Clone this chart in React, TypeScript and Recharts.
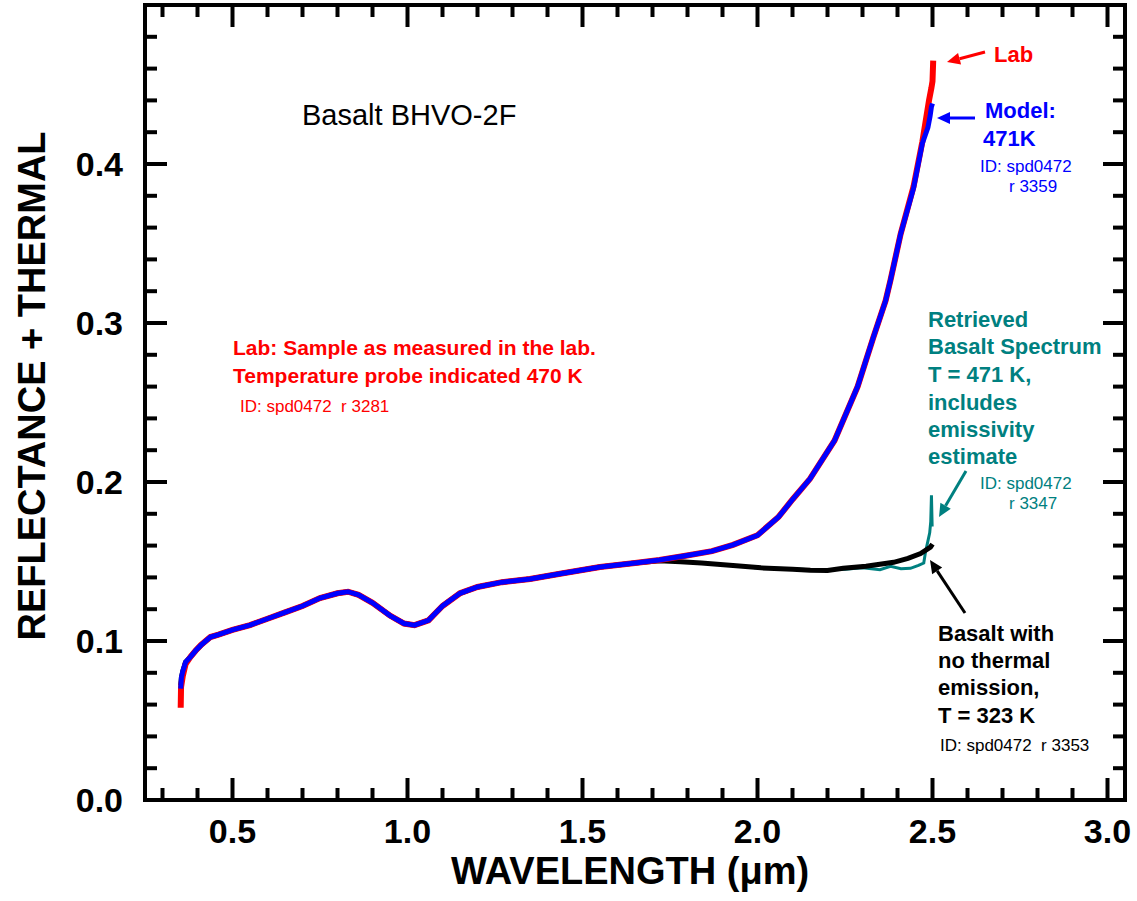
import React from 'react';
import { LineChart, Line, XAxis, YAxis, Customized } from 'recharts';

// ---------- data ----------
const labWavelength = [0.352, 0.353, 0.358, 0.366, 0.38, 0.395, 0.41, 0.437, 0.46, 0.5, 0.55, 0.6, 0.65, 0.7, 0.75, 0.8, 0.83, 0.86, 0.9, 0.95, 0.99, 1.02, 1.06, 1.1, 1.15, 1.2, 1.27, 1.35, 1.44, 1.55, 1.65, 1.72, 1.79, 1.87, 1.93, 2.0, 2.06, 2.1, 2.15, 2.22, 2.286, 2.331, 2.366, 2.38, 2.409, 2.446, 2.471, 2.49, 2.497, 2.5, 2.502];
const labReflectance = [0.058, 0.071, 0.078, 0.0855, 0.09, 0.094, 0.0975, 0.1025, 0.104, 0.107, 0.11, 0.114, 0.118, 0.122, 0.127, 0.13, 0.131, 0.129, 0.124, 0.116, 0.111, 0.11, 0.113, 0.122, 0.13, 0.134, 0.137, 0.139, 0.1425, 0.1465, 0.149, 0.151, 0.1535, 0.1565, 0.1605, 0.1665, 0.178, 0.189, 0.202, 0.226, 0.26, 0.291, 0.314, 0.327, 0.356, 0.386, 0.414, 0.44, 0.448, 0.452, 0.465];

const modelWavelength = [0.352, 0.354, 0.358, 0.366, 0.38, 0.395, 0.41, 0.437, 0.46, 0.5, 0.55, 0.6, 0.65, 0.7, 0.75, 0.8, 0.83, 0.86, 0.9, 0.95, 0.99, 1.02, 1.06, 1.1, 1.15, 1.2, 1.27, 1.35, 1.44, 1.55, 1.65, 1.72, 1.79, 1.87, 1.93, 2.0, 2.06, 2.1, 2.15, 2.22, 2.286, 2.331, 2.366, 2.38, 2.409, 2.446, 2.471, 2.487, 2.493, 2.497, 2.5];
const modelReflectance = [0.07, 0.077, 0.081, 0.0867, 0.09, 0.094, 0.0974, 0.1025, 0.104, 0.107, 0.11, 0.114, 0.118, 0.122, 0.127, 0.13, 0.131, 0.129, 0.124, 0.116, 0.111, 0.11, 0.113, 0.122, 0.13, 0.134, 0.137, 0.139, 0.1425, 0.1465, 0.149, 0.151, 0.1535, 0.1565, 0.1605, 0.1665, 0.178, 0.189, 0.202, 0.226, 0.26, 0.291, 0.314, 0.327, 0.356, 0.385, 0.413, 0.423, 0.43, 0.436, 0.438];

const coldWavelength = [0.352, 0.354, 0.358, 0.366, 0.38, 0.395, 0.41, 0.437, 0.46, 0.5, 0.55, 0.6, 0.65, 0.7, 0.75, 0.8, 0.83, 0.86, 0.9, 0.95, 0.99, 1.02, 1.06, 1.1, 1.15, 1.2, 1.27, 1.35, 1.44, 1.55, 1.65, 1.72, 1.78, 1.84, 1.93, 2.01, 2.1, 2.151, 2.2, 2.245, 2.31, 2.389, 2.43, 2.466, 2.494, 2.5];
const coldReflectance = [0.072, 0.077, 0.081, 0.0867, 0.09, 0.094, 0.0974, 0.1025, 0.104, 0.107, 0.11, 0.114, 0.118, 0.122, 0.127, 0.13, 0.131, 0.129, 0.124, 0.116, 0.111, 0.11, 0.113, 0.122, 0.13, 0.134, 0.137, 0.139, 0.1425, 0.1465, 0.149, 0.1505, 0.1498, 0.149, 0.1475, 0.146, 0.1452, 0.1445, 0.1443, 0.1457, 0.147, 0.1495, 0.152, 0.155, 0.159, 0.161];

const retrievedWavelength = [1.99, 2.05, 2.1, 2.15, 2.2, 2.25, 2.3, 2.35, 2.38, 2.41, 2.437, 2.46, 2.475, 2.48, 2.487, 2.492, 2.495, 2.497, 2.499];
const retrievedReflectance = [0.146, 0.1458, 0.1455, 0.1448, 0.1448, 0.1452, 0.146, 0.1448, 0.147, 0.1455, 0.1457, 0.1475, 0.149, 0.156, 0.163, 0.168, 0.175, 0.1916, 0.172];

const xTicks = [0.3, 0.4, 0.5, 0.6, 0.7, 0.8, 0.9, 1.0, 1.1, 1.2, 1.3, 1.4, 1.5, 1.6, 1.7, 1.8, 1.9, 2.0, 2.1, 2.2, 2.3, 2.4, 2.5, 2.6, 2.7, 2.8, 2.9, 3.0];
const yTicks = [0, 0.02, 0.04, 0.06, 0.08, 0.1, 0.12, 0.14, 0.16, 0.18, 0.2, 0.22, 0.24, 0.26, 0.28, 0.3, 0.32, 0.34, 0.36, 0.38, 0.4, 0.42, 0.44, 0.46, 0.48];

const toPoints = (xs: number[], ys: number[]) => xs.map((x, i) => ({ x, y: ys[i] }));
const labData = toPoints(labWavelength, labReflectance);
const modelData = toPoints(modelWavelength, modelReflectance);
const coldData = toPoints(coldWavelength, coldReflectance);
const retrievedData = toPoints(retrievedWavelength, retrievedReflectance);

const FONT = '"Liberation Sans", Arial, Helvetica, sans-serif';
const RED = '#ff0000';
const BLUE = '#0000ff';
const TEAL = '#008080';

const isMajorX = (v: number) => Math.abs(v * 2 - Math.round(v * 2)) < 1e-6;
const isMajorY = (v: number) => Math.abs(v * 10 - Math.round(v * 10)) < 1e-6;

const BottomTick = (props: any) => {
  const { x, y, payload } = props;
  const v = payload.value as number;
  const major = isMajorX(v);
  return (
    <g>
      <line x1={x} x2={x} y1={y} y2={y - (major ? 22 : 12)} stroke="#000" strokeWidth={4} />
      {major && (
        <text x={x} y={y + 43} textAnchor="middle" fontFamily={FONT} fontWeight="bold" fontSize={34} fill="#000">
          {v.toFixed(1)}
        </text>
      )}
    </g>
  );
};

const TopTick = (props: any) => {
  const { x, y, payload } = props;
  const major = isMajorX(payload.value);
  return <line x1={x} x2={x} y1={y} y2={y + (major ? 22 : 12)} stroke="#000" strokeWidth={4} />;
};

const LeftTick = (props: any) => {
  const { x, y, payload } = props;
  const v = payload.value as number;
  const major = isMajorY(v);
  return (
    <g>
      <line x1={x} x2={x + (major ? 22 : 12)} y1={y} y2={y} stroke="#000" strokeWidth={4} />
      {major && (
        <text x={x - 22} y={y + 12} textAnchor="end" fontFamily={FONT} fontWeight="bold" fontSize={34} fill="#000">
          {v.toFixed(1)}
        </text>
      )}
    </g>
  );
};

const RightTick = (props: any) => {
  const { x, y, payload } = props;
  const major = isMajorY(payload.value);
  return <line x1={x} x2={x - (major ? 22 : 12)} y1={y} y2={y} stroke="#000" strokeWidth={4} />;
};

const Arrow = ({ x1, y1, x2, y2, color }: { x1: number; y1: number; x2: number; y2: number; color: string }) => {
  const dx = x2 - x1;
  const dy = y2 - y1;
  const len = Math.sqrt(dx * dx + dy * dy);
  const ux = dx / len;
  const uy = dy / len;
  const hl = 13;
  const hw = 6;
  const bx = x2 - ux * hl;
  const by = y2 - uy * hl;
  const p1 = `${x2},${y2}`;
  const p2 = `${bx - uy * hw},${by + ux * hw}`;
  const p3 = `${bx + uy * hw},${by - ux * hw}`;
  return (
    <g>
      <line x1={x1} y1={y1} x2={bx} y2={by} stroke={color} strokeWidth={3} />
      <polygon points={`${p1} ${p2} ${p3}`} fill={color} />
    </g>
  );
};

const T = ({ x, y, color, size, bold, children }: any) => (
  <text x={x} y={y} fill={color} fontSize={size} fontFamily={FONT} fontWeight={bold ? 'bold' : 'normal'} style={{ whiteSpace: 'pre' }}>
    {children}
  </text>
);

const Annotations = () => (
  <g>
    <text x={630} y={884} textAnchor="middle" fontFamily={FONT} fontWeight="bold" fontSize={38} fill="#000">
      WAVELENGTH (μm)
    </text>
    <text x={0} y={0} transform="translate(45,386) rotate(-90)" textAnchor="middle" fontFamily={FONT} fontWeight="bold" fontSize={38} fill="#000">
      REFLECTANCE + THERMAL
    </text>

    <T x={302} y={125} color="#000" size={29}>Basalt BHVO-2F</T>

    <T x={233} y={355} color={RED} size={21} bold>Lab: Sample as measured in the lab.</T>
    <T x={233} y={383} color={RED} size={21} bold>Temperature probe indicated 470 K</T>
    <T x={240} y={412} color={RED} size={17}>ID: spd0472  r 3281</T>

    <T x={994} y={62} color={RED} size={22} bold>Lab</T>
    <Arrow x1={985} y1={52} x2={947} y2={62} color={RED} />

    <T x={985} y={118} color={BLUE} size={22} bold>Model:</T>
    <T x={983} y={146} color={BLUE} size={22} bold>471K</T>
    <T x={980} y={172} color={BLUE} size={17}>ID: spd0472</T>
    <T x={1009} y={192} color={BLUE} size={17}>r 3359</T>
    <Arrow x1={975} y1={118} x2={937} y2={118} color={BLUE} />

    <T x={928} y={327} color={TEAL} size={22} bold>Retrieved</T>
    <T x={928} y={354} color={TEAL} size={22} bold>Basalt Spectrum</T>
    <T x={928} y={382} color={TEAL} size={22} bold>T = 471 K,</T>
    <T x={928} y={410} color={TEAL} size={22} bold>includes</T>
    <T x={928} y={437} color={TEAL} size={22} bold>emissivity</T>
    <T x={928} y={464} color={TEAL} size={22} bold>estimate</T>
    <T x={980} y={489} color={TEAL} size={17}>ID: spd0472</T>
    <T x={1009} y={509} color={TEAL} size={17}>r 3347</T>
    <Arrow x1={966} y1={471} x2={939} y2={517} color={TEAL} />

    <T x={938} y={641} color="#000" size={22} bold>Basalt with</T>
    <T x={938} y={668} color="#000" size={22} bold>no thermal</T>
    <T x={938} y={695} color="#000" size={22} bold>emission,</T>
    <T x={938} y={723} color="#000" size={22} bold>T = 323 K</T>
    <T x={940} y={751} color="#000" size={17}>ID: spd0472  r 3353</T>
    <Arrow x1={965} y1={613} x2={930} y2={560} color="#000" />
  </g>
);

const axisLineStyle = { stroke: '#000', strokeWidth: 4, strokeLinecap: 'square' as const };

export default function App() {
  return (
    <div style={{ position: 'absolute', left: 0, top: 0, width: 1137, height: 901, background: '#fff' }}>
      <LineChart width={1137} height={901} margin={{ top: 4, right: 11, bottom: 0, left: 0 }}>
        <XAxis
          xAxisId="b"
          type="number"
          dataKey="x"
          orientation="bottom"
          domain={[0.25, 3.05]}
          ticks={xTicks}
          interval={0}
          height={101}
          tickSize={0}
          tickMargin={0}
          tickLine={false}
          axisLine={axisLineStyle}
          tick={<BottomTick />}
          allowDataOverflow
        />
        <XAxis
          xAxisId="t"
          type="number"
          dataKey="x"
          orientation="top"
          domain={[0.25, 3.05]}
          ticks={xTicks}
          interval={0}
          height={1}
          tickSize={0}
          tickMargin={0}
          tickLine={false}
          axisLine={axisLineStyle}
          tick={<TopTick />}
          allowDataOverflow
        />
        <YAxis
          yAxisId="l"
          type="number"
          orientation="left"
          domain={[0, 0.5]}
          ticks={yTicks}
          interval={0}
          width={145}
          tickSize={0}
          tickMargin={0}
          tickLine={false}
          axisLine={axisLineStyle}
          tick={<LeftTick />}
          allowDataOverflow
        />
        <YAxis
          yAxisId="r"
          type="number"
          orientation="right"
          domain={[0, 0.5]}
          ticks={yTicks}
          interval={0}
          width={1}
          tickSize={0}
          tickMargin={0}
          tickLine={false}
          axisLine={axisLineStyle}
          tick={<RightTick />}
          allowDataOverflow
        />
        <Line data={retrievedData} dataKey="y" xAxisId="b" yAxisId="l" type="linear" dot={false} stroke={TEAL} strokeWidth={3} isAnimationActive={false} />
        <Line data={coldData} dataKey="y" xAxisId="b" yAxisId="l" type="linear" dot={false} stroke="#000" strokeWidth={5} isAnimationActive={false} />
        <Line data={labData} dataKey="y" xAxisId="b" yAxisId="l" type="linear" dot={false} stroke={RED} strokeWidth={6} isAnimationActive={false} />
        <Line data={modelData} dataKey="y" xAxisId="b" yAxisId="l" type="linear" dot={false} stroke={BLUE} strokeWidth={5} isAnimationActive={false} />
        <Customized component={Annotations} />
      </LineChart>
    </div>
  );
}
